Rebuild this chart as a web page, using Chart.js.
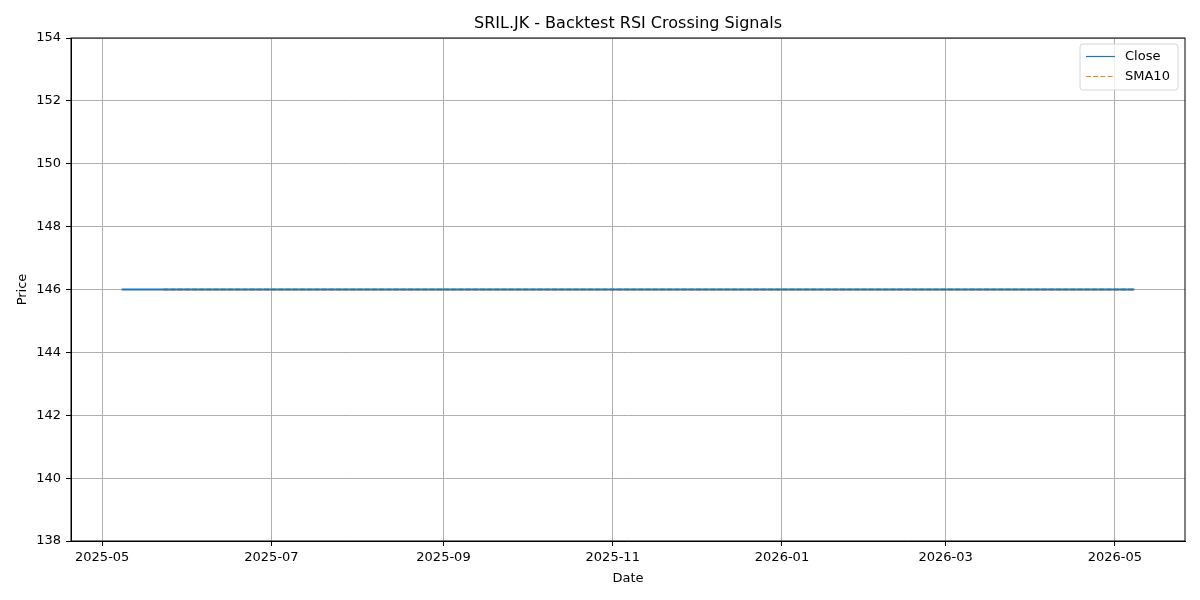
<!DOCTYPE html>
<html>
<head>
<meta charset="utf-8">
<script src="https://cdn.jsdelivr.net/npm/chart.js@4.4.1/dist/chart.umd.min.js"></script>
<style>
  html, body { margin: 0; padding: 0; background: #ffffff; }
  #wrap { width: 1200px; height: 600px; }
</style>
</head>
<body>
<div id="wrap"><canvas id="priceChart"></canvas></div>
<script>
// =========================
// Dados
// =========================

const TITLE = "SRIL.JK - Backtest RSI Crossing Signals";

// Close: flat at 146 over the whole period
const closeDates = ["2025-05-08", "2026-05-08"];
const closeValues = [146, 146];

// SMA10 starts once 10 trading days are available
const smaDates = ["2025-05-23", "2026-05-08"];
const smaValues = [146, 146];

const xTickDates = ["2025-05-01", "2025-07-01", "2025-09-01", "2025-11-01", "2026-01-01", "2026-03-01", "2026-05-01"];
const yTicks = [138, 140, 142, 144, 146, 148, 150, 152, 154];

const FONT = "'DejaVu Sans', sans-serif";

function ts(d) {
  return Date.parse(d + "T00:00:00Z");
}

function toPoints(dates, values) {
  return dates.map((d, i) => ({ x: ts(d), y: values[i] }));
}

function fmtMonth(v) {
  const d = new Date(v);
  return d.getUTCFullYear() + "-" + String(d.getUTCMonth() + 1).padStart(2, "0");
}

// 5% margin like matplotlib
const xFirst = ts(closeDates[0]);
const xLast = ts(closeDates[closeDates.length - 1]);
const xPad = (xLast - xFirst) * 0.05;

// =========================
// Plugins
// =========================

const framePlugin = {
  id: "frame",
  afterDraw(chart) {
    const { ctx, chartArea: a } = chart;
    ctx.save();
    ctx.strokeStyle = "#000000";
    ctx.lineWidth = 1;
    ctx.strokeRect(a.left, a.top, a.right - a.left, a.bottom - a.top);

    // title, centred over the axes
    ctx.fillStyle = "#000000";
    ctx.font = "16px " + FONT;
    ctx.textAlign = "center";
    ctx.textBaseline = "middle";
    ctx.fillText(TITLE, (a.left + a.right) / 2, 23.5);

    // legend box, upper right
    const bx = a.right - 105, by = a.top + 6, bw = 98, bh = 46;
    ctx.fillStyle = "rgba(255,255,255,0.8)";
    ctx.strokeStyle = "#d6d6d6";
    ctx.beginPath();
    ctx.roundRect(bx, by, bw, bh, 3);
    ctx.fill();
    ctx.stroke();

    ctx.font = "13px " + FONT;
    ctx.textAlign = "left";
    chart.data.datasets.forEach((ds, i) => {
      const y = by + 12.5 + i * 20;
      ctx.strokeStyle = ds.borderColor;
      ctx.lineWidth = 1.2;
      ctx.setLineDash(ds.borderDash || []);
      ctx.beginPath();
      ctx.moveTo(bx + 6, y);
      ctx.lineTo(bx + 35, y);
      ctx.stroke();
      ctx.setLineDash([]);
      ctx.fillStyle = "#000000";
      ctx.fillText(ds.label, bx + 45, y);
    });
    ctx.restore();
  },
};

// =========================
// Gráfico
// =========================

new Chart(document.getElementById("priceChart"), {
  type: "line",
  data: {
    datasets: [
      {
        label: "Close",
        data: toPoints(closeDates, closeValues),
        borderColor: "#1f77b4",
        borderWidth: 1.8,
        pointRadius: 0,
        tension: 0,
      },
      {
        label: "SMA10",
        data: toPoints(smaDates, smaValues),
        borderColor: "#ff7f0e",
        borderWidth: 1.8,
        borderDash: [5, 2.2],
        pointRadius: 0,
        tension: 0,
      },
    ],
  },
  options: {
    responsive: true,
    maintainAspectRatio: false,
    animation: false,
    layout: { padding: { top: 38, right: 15, left: 0, bottom: 0 } },
    plugins: {
      legend: { display: false },
      title: { display: false },
      tooltip: { enabled: false },
    },
    scales: {
      x: {
        type: "linear",
        min: xFirst - xPad,
        max: xLast + xPad,
        afterBuildTicks(scale) {
          scale.ticks = xTickDates.map((d) => ({ value: ts(d) }));
        },
        afterFit(scale) {
          scale.height = 59;
        },
        ticks: {
          callback: (v) => fmtMonth(v),
          color: "#000000",
          font: { family: FONT, size: 13 },
          maxRotation: 0,
          padding: 4,
        },
        grid: { color: "#b0b0b0", lineWidth: 1, tickColor: "#000000", tickLength: 5 },
        border: { color: "#000000", width: 1 },
        title: {
          display: true,
          text: "Date",
          color: "#000000",
          font: { family: FONT, size: 13 },
          padding: { top: 2, bottom: 14 },
        },
      },
      y: {
        min: yTicks[0],
        max: yTicks[yTicks.length - 1],
        afterBuildTicks(scale) {
          scale.ticks = yTicks.map((v) => ({ value: v }));
        },
        afterFit(scale) {
          scale.width = 71;
        },
        ticks: {
          color: "#000000",
          font: { family: FONT, size: 13 },
          padding: 5,
        },
        grid: { color: "#b0b0b0", lineWidth: 1, tickColor: "#000000", tickLength: 5 },
        border: { color: "#000000", width: 1 },
        title: {
          display: true,
          text: "Price",
          color: "#000000",
          font: { family: FONT, size: 13 },
          padding: { top: 15, bottom: 0 },
        },
      },
    },
  },
  plugins: [framePlugin],
});
</script>
</body>
</html>
